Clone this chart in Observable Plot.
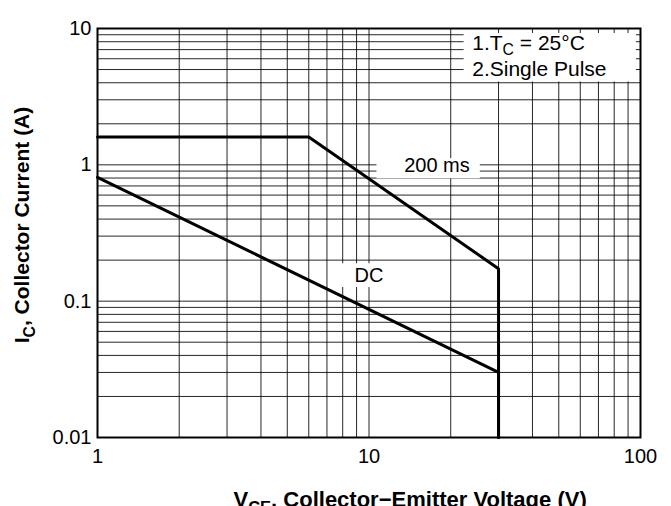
<!DOCTYPE html>
<html>
<head>
<meta charset="utf-8">
<script src="https://cdn.jsdelivr.net/npm/d3@7"></script>
<script src="https://cdn.jsdelivr.net/npm/@observablehq/plot@0.6"></script>
<style>
  html, body { margin: 0; padding: 0; background: #fff; }
  #chart { width: 671px; height: 506px; overflow: hidden; }
</style>
</head>
<body>
<div id="chart"></div>
<script>
// ---- data ----
const xGrid = [1, 2, 3, 4, 5, 6, 7, 8, 9, 10, 20, 30, 40, 50, 60, 70, 80, 90, 100];
const yGrid = [0.01, 0.02, 0.03, 0.04, 0.05, 0.06, 0.07, 0.08, 0.09,
               0.1, 0.2, 0.3, 0.4, 0.5, 0.6, 0.7, 0.8, 0.9,
               1, 2, 3, 4, 5, 6, 7, 8, 9, 10];
const xTicks = [1, 10, 100];
const xTickLabels = ["1", "10", "100"];
const yTicks = [0.01, 0.1, 1, 10];
const yTickLabels = ["0.01", "0.1", "1", "10"];

// 200 ms single pulse SOA boundary
const pulseV = [1, 6, 30, 30];
const pulseI = [1.6, 1.6, 0.173, 0.01];
// DC SOA boundary
const dcV = [1, 30, 30];
const dcI = [0.81, 0.03, 0.01];

// curve labels (data coordinates)
const curveLabels = ["200 ms", "DC"];
const curveLabelV = [17.8, 10];
const curveLabelI = [0.987, 0.154];
const curveBoxV1 = [10.7, 7.7];
const curveBoxV2 = [25.7, 11.6];
const curveBoxI1 = [0.79, 0.126];
const curveBoxI2 = [1.11, 0.188];

// note box
const noteLines = ["1.TC = 25°C", "2.Single Pulse"];
const noteV = 24;
const noteI = [7.8, 5.05];
const noteBoxV = [22.4, 96.6];
const noteBoxI = [4.05, 9.19];

const xTitle = "VCE, Collector\u2212Emitter Voltage (V)";
const yTitle = "IC, Collector Current (A)";

// ---- tables built from the arrays ----
const pulse = pulseV.map((v, i) => ({v, i: pulseI[i]}));
const dc = dcV.map((v, i) => ({v, i: dcI[i]}));
const boxes = curveLabels.map((_, k) => ({x1: curveBoxV1[k], x2: curveBoxV2[k], y1: curveBoxI1[k], y2: curveBoxI2[k]}))
  .concat([{x1: noteBoxV[0], x2: noteBoxV[1], y1: noteBoxI[0], y2: noteBoxI[1]}]);
const labels = curveLabels.map((t, k) => ({t, v: curveLabelV[k], i: curveLabelI[k]}));
const notes = noteLines.map((t, k) => ({t, v: noteV, i: noteI[k]}));

const font = "'Liberation Sans', Arial, Helvetica, sans-serif";

const chart = Plot.plot({
  width: 671,
  height: 506,
  marginLeft: 97,
  marginRight: 31,
  marginTop: 28,
  marginBottom: 69,
  style: {fontFamily: font, fontSize: "20px", color: "#000", background: "#fff", overflow: "hidden"},
  x: {type: "log", domain: [1, 100], ticks: xTicks, tickFormat: d => xTickLabels[xTicks.indexOf(d)], tickSize: 0, tickPadding: 11, label: null},
  y: {type: "log", domain: [0.01, 10], ticks: yTicks, tickFormat: d => yTickLabels[yTicks.indexOf(d)], tickSize: 0, tickPadding: 6, label: null},
  marks: [
    Plot.ruleX(xGrid, {stroke: "#000", strokeWidth: 1, strokeOpacity: 0.85}),
    Plot.ruleY(yGrid, {stroke: "#000", strokeWidth: 1, strokeOpacity: 0.85}),
    Plot.rect(boxes, {x1: "x1", x2: "x2", y1: "y1", y2: "y2", fill: "#fff"}),
    Plot.frame({stroke: "#000", strokeWidth: 2}),
    Plot.line(pulse, {x: "v", y: "i", stroke: "#000", strokeWidth: 3, strokeLinejoin: "miter"}),
    Plot.line(dc, {x: "v", y: "i", stroke: "#000", strokeWidth: 3, strokeLinejoin: "miter"}),
    Plot.text(labels, {x: "v", y: "i", text: "t", fontSize: 20, fill: "#000", textAnchor: "middle", lineAnchor: "middle"}),
    Plot.text(notes, {x: "v", y: "i", text: "t", fontSize: 21, fill: "#000", textAnchor: "start", lineAnchor: "middle"}),
    Plot.text([xTitle], {text: d => d, frameAnchor: "bottom-left", textAnchor: "start", lineAnchor: "middle", dx: 136, dy: 62, fontSize: 22, fontWeight: "bold", fill: "#000"}),
    Plot.text([yTitle], {text: d => d, frameAnchor: "left", textAnchor: "middle", lineAnchor: "middle", rotate: -90, dx: -75, dy: -8, fontSize: 21, fontWeight: "bold", fill: "#000"})
  ]
});

document.getElementById("chart").appendChild(chart);

// subscripts as real text tspans
function subscript(full, parts, fs, k) {
  d3.select(chart).selectAll("text").each(function () {
    if (this.textContent !== full) return;
    const t = d3.select(this);
    t.text("");
    const shift = fs * k;
    let lowered = false;
    parts.forEach(([s, isSub]) => {
      const ts = t.append("tspan").text(s);
      if (isSub && !lowered) { ts.attr("dy", shift).attr("font-size", fs * 0.75); lowered = true; }
      else if (!isSub && lowered) { ts.attr("dy", -shift); lowered = false; }
    });
  });
}
subscript(noteLines[0], [["1.T", false], ["C", true], [" = 25°C", false]], 21, 0.22);
subscript(yTitle, [["I", false], ["C", true], [", Collector Current (A)", false]], 21, 0.28);
subscript(xTitle, [["V", false], ["CE", true], [", Collector\u2212Emitter Voltage (V)", false]], 22, 0.28);
</script>
</body>
</html>
